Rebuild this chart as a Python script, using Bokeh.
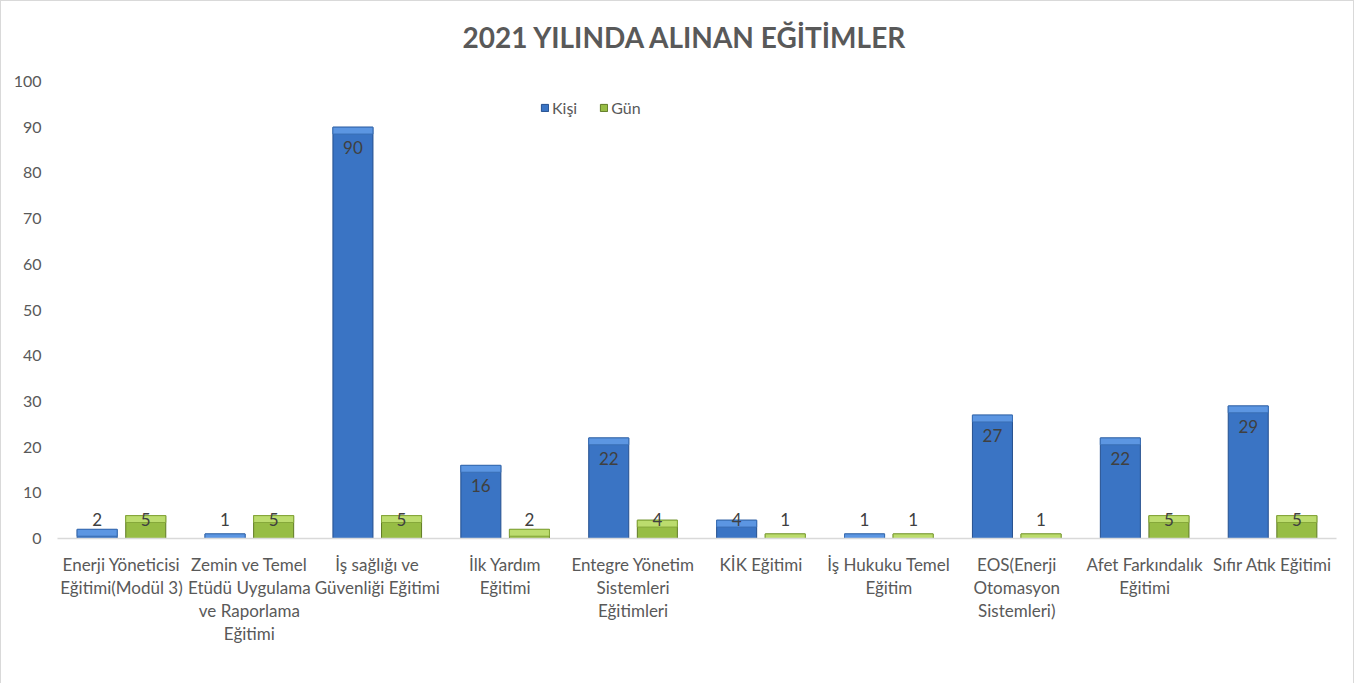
import numpy as np
from bokeh.plotting import figure
from bokeh.models import ColumnDataSource, Legend, LegendItem, FactorRange, Title
from bokeh.transform import dodge
from bokeh.embed import file_html
from bokeh.resources import INLINE

title_text = "2021 YILINDA ALINAN EĞİTİMLER"
categories = [
    "Enerji Yöneticisi\nEğitimi(Modül 3)",
    "Zemin ve Temel\nEtüdü Uygulama\nve Raporlama\nEğitimi",
    "İş sağlığı ve\nGüvenliği Eğitimi",
    "İlk Yardım\nEğitimi",
    "Entegre Yönetim\nSistemleri\nEğitimleri",
    "KİK Eğitimi",
    "İş Hukuku Temel\nEğitim",
    "EOS(Enerji\nOtomasyon\nSistemleri)",
    "Afet Farkındalık\nEğitimi",
    "Sıfır Atık Eğitimi",
]
kisi = [2, 1, 90, 16, 22, 4, 1, 27, 22, 29]
gun = [5, 5, 5, 2, 4, 1, 1, 1, 5, 5]
y_ticks = list(range(0, 101, 10))

FONT = "Lato"
TXT = "#595959"

def label_pos(vals):
    v = np.array(vals, dtype=float)
    return np.maximum(v - 4.4, 4.2)

src = ColumnDataSource(dict(
    cat=categories,
    kisi=kisi,
    gun=gun,
    kisi_top=[max(v - 1.5, 0) for v in kisi],
    gun_top=[max(v - 1.5, 0) for v in gun],
    kisi_lbl=label_pos(kisi),
    gun_lbl=label_pos(gun),
    kisi_txt=[str(v) for v in kisi],
    gun_txt=[str(v) for v in gun],
))

p = figure(
    width=1354, height=683,
    x_range=FactorRange(*categories, range_padding=0),
    y_range=(0, 100),
    output_backend="svg", toolbar_location=None,
    min_border_left=56, min_border_right=19, min_border_bottom=146, min_border_top=10,
)
p.title = None
p.styles = {"border-top": "1px solid #d9d9d9", "border-left": "1px solid #d9d9d9",
            "border-right": "1px solid #d9d9d9"}

# spacer (closest to the frame), real title, then a top spacer
p.add_layout(Title(text=" ", text_font_size="23px", standoff=0), "above")
p.add_layout(Title(text=title_text, align="left", offset=405, text_font=FONT,
                   text_font_size="28px", text_font_style="bold",
                   text_color=TXT, standoff=0), "above")
p.add_layout(Title(text=" ", text_font_size="12px", standoff=0), "above")

p.outline_line_color = None
p.xgrid.grid_line_color = None
p.ygrid.grid_line_color = None

off = 0.19
w = 0.313
kx = dodge("cat", -off, range=p.x_range)
gx = dodge("cat", off, range=p.x_range)

r1 = p.vbar(x=kx, top="kisi", bottom=0, width=w, source=src,
            fill_color="#3a74c4", line_color="#244f8e", line_width=1)
p.vbar(x=kx, top="kisi", bottom="kisi_top", width=w, source=src,
       fill_color="#5c96e2", line_color="#3a6fb5", line_width=1)
r2 = p.vbar(x=gx, top="gun", bottom=0, width=w, source=src,
            fill_color="#97bd45", line_color="#5f7a24", line_width=1)
p.vbar(x=gx, top="gun", bottom="gun_top", width=w, source=src,
       fill_color="#bcdc6e", line_color="#86a83a", line_width=1)

for xx, col in ((kx, "kisi"), (gx, "gun")):
    p.text(x=xx, y=col + "_lbl", text=col + "_txt", source=src,
           text_align="center", text_baseline="middle",
           text_font={"value": FONT}, text_font_size={"value": "17px"},
           text_color="#404040")

p.yaxis.ticker = y_ticks
p.yaxis.axis_line_color = None
p.yaxis.major_tick_line_color = None
p.yaxis.minor_tick_line_color = None
p.yaxis.major_label_standoff = 10
p.yaxis.major_label_text_font = FONT
p.yaxis.major_label_text_font_size = "16px"
p.yaxis.major_label_text_color = TXT

p.xaxis.axis_line_color = "#d9d9d9"
p.xaxis.axis_line_width = 1.5
p.xaxis.major_tick_line_color = None
p.xaxis.minor_tick_line_color = None
p.xaxis.major_label_standoff = 9
p.xaxis.major_label_text_font = FONT
p.xaxis.major_label_text_font_size = "17px"
p.xaxis.major_label_text_color = TXT
p.xaxis.major_label_text_line_height = 1.1

legend = Legend(items=[LegendItem(label="Kişi", renderers=[r1]),
                       LegendItem(label="Gün", renderers=[r2])],
                orientation="horizontal", location=(483, 421))
legend.glyph_width = 9
legend.glyph_height = 9
legend.label_standoff = 3
legend.spacing = 22
legend.padding = 0
legend.margin = 0
legend.border_line_color = None
legend.background_fill_alpha = 0
legend.label_text_font = FONT
legend.label_text_font_size = "16px"
legend.label_text_color = TXT
p.add_layout(legend, "center")

open("out.html", "w").write(file_html(p, INLINE))
